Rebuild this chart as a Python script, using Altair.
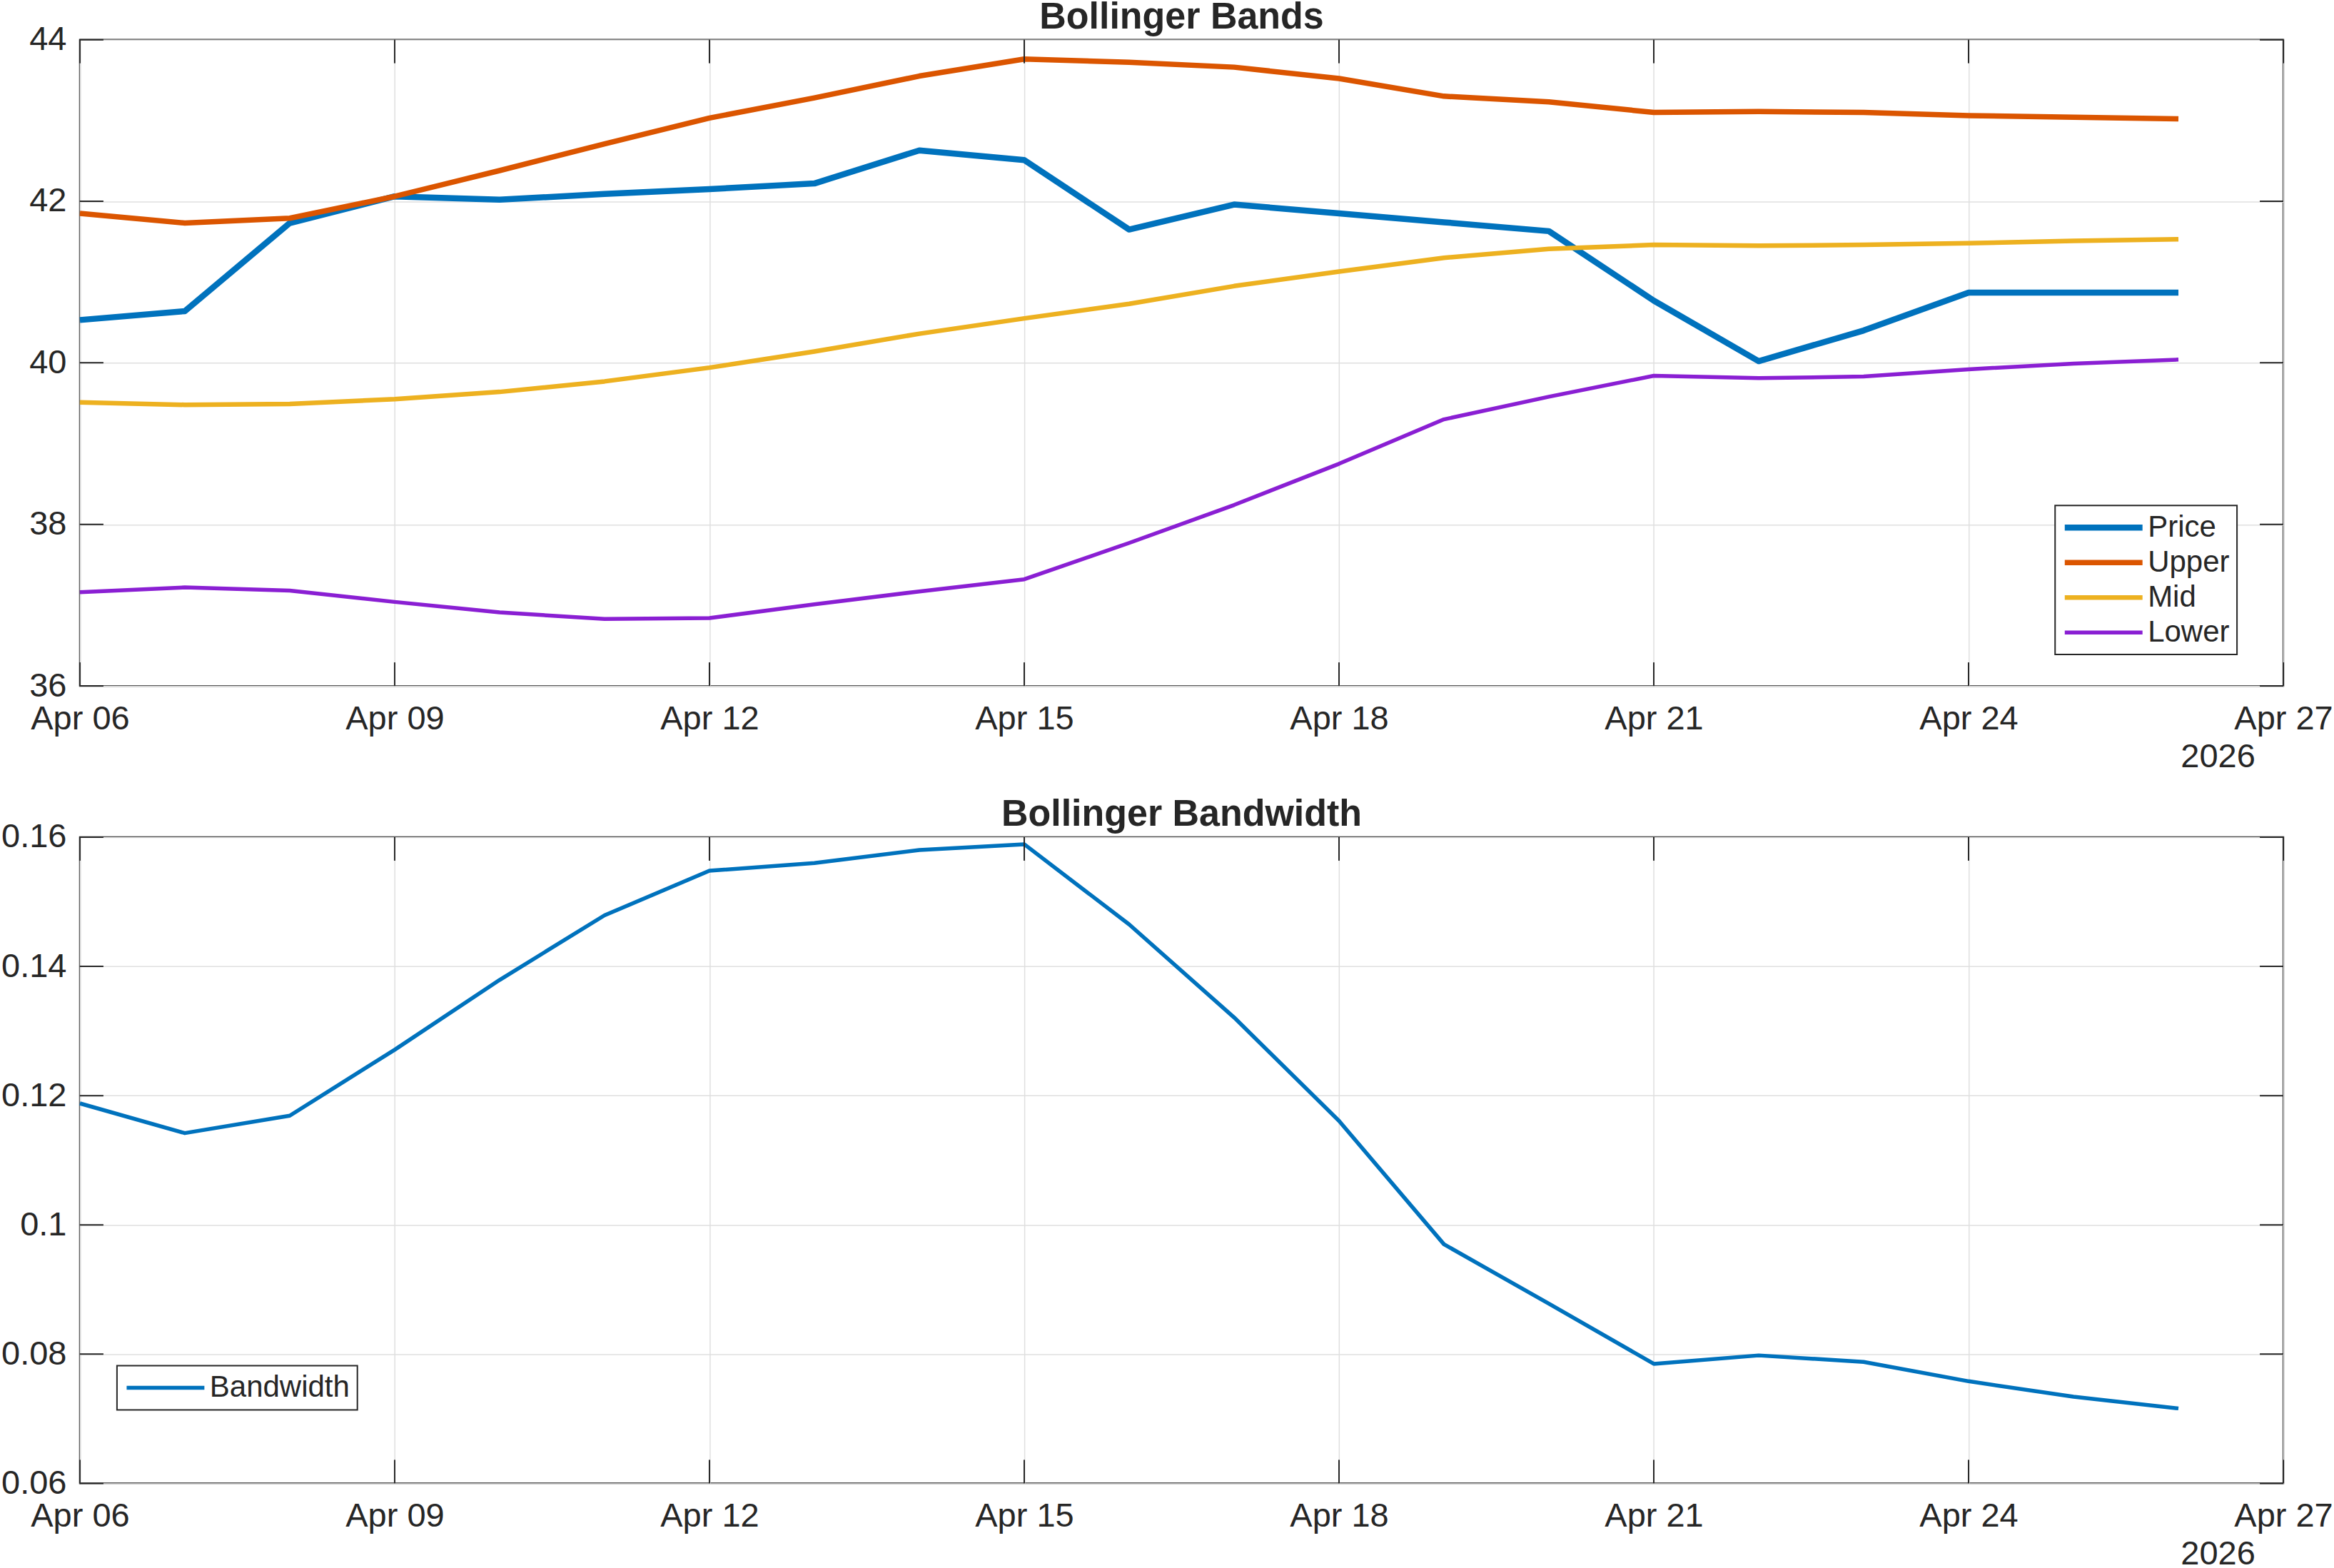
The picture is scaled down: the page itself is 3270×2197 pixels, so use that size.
import altair as alt
import pandas as pd

# ---------------- data ----------------
dates = ["2026-04-06", "2026-04-07", "2026-04-08", "2026-04-09", "2026-04-10",
         "2026-04-11", "2026-04-12", "2026-04-13", "2026-04-14", "2026-04-15",
         "2026-04-16", "2026-04-17", "2026-04-18", "2026-04-19", "2026-04-20",
         "2026-04-21", "2026-04-22", "2026-04-23", "2026-04-24", "2026-04-25",
         "2026-04-26"]
price = [40.53, 40.64, 41.73, 42.06, 42.02, 42.09, 42.15, 42.22, 42.63, 42.51,
         41.65, 41.96, 41.85, 41.74, 41.63, 40.77, 40.02, 40.40, 40.87, 40.87, 40.87]
upper = [41.85, 41.73, 41.79, 42.06, 42.38, 42.71, 43.03, 43.28, 43.55, 43.76,
         43.72, 43.66, 43.52, 43.30, 43.23, 43.10, 43.11, 43.10, 43.06, 43.04, 43.02]
mid = [39.51, 39.48, 39.49, 39.55, 39.64, 39.77, 39.94, 40.14, 40.36, 40.55,
       40.73, 40.95, 41.13, 41.30, 41.41, 41.46, 41.45, 41.46, 41.48, 41.51, 41.53]
lower = [37.16, 37.22, 37.18, 37.04, 36.91, 36.83, 36.84, 37.01, 37.17, 37.32,
         37.77, 38.24, 38.75, 39.30, 39.58, 39.84, 39.81, 39.83, 39.92, 39.99, 40.04]
bandwidth = [0.1188, 0.1142, 0.1169, 0.1271, 0.1379, 0.1479, 0.1548, 0.1560, 0.1580, 0.1589,
             0.1465, 0.1321, 0.1161, 0.0970, 0.0878, 0.0785, 0.0798, 0.0788, 0.0758, 0.0734, 0.0716]

series_names = ["Price", "Upper", "Mid", "Lower"]
series_colors = ["#0072BD", "#DB5500", "#EDB120", "#8A1FD3"]
series_widths = [8.5, 5.5, 5.5, 5.5]

x_tick_dates = ["2026-04-06", "2026-04-09", "2026-04-12", "2026-04-15",
                "2026-04-18", "2026-04-21", "2026-04-24", "2026-04-27"]
x_tick_days = [6, 9, 12, 15, 18, 21, 24, 27]
top_y_ticks = [36, 38, 40, 42, 44]
bot_y_ticks = [0.06, 0.08, 0.10, 0.12, 0.14, 0.16]

# ---------------- tables ----------------
bands = pd.DataFrame({
    "date": dates * 4,
    "value": price + upper + mid + lower,
    "series": sum([[s] * len(dates) for s in series_names], []),
})
bw = pd.DataFrame({"date": dates, "value": bandwidth, "series": ["Bandwidth"] * len(dates)})
xt = pd.DataFrame({"date": x_tick_dates})
yt_top = pd.DataFrame({"value": top_y_ticks})
yt_bot = pd.DataFrame({"value": bot_y_ticks})

# ---------------- style ----------------
FONT = "Liberation Sans"
INK = "#262626"
W, H = 3089, 906
TL = 33
LEG_PATH = "M-1.6,0H8.4"

xscale = alt.Scale(type="utc", domain=[alt.DateTime(year=2026, month=4, date=6, utc=True),
                                       alt.DateTime(year=2026, month=4, date=27, utc=True)])

X_AXIS = alt.Axis(
    values=[alt.DateTime(year=2026, month=4, date=d, utc=True) for d in x_tick_days],
    format="%b %d", labelFlush=False, labelOverlap=False,
    labelBaseline="alphabetic", labelAlign="center", labelPadding=60,
    title="2026", titleX=2997, titleY=113, titleAlign="center",
    titleBaseline="alphabetic", titleFontWeight="normal", titleFontSize=47,
    titleFont=FONT, titleColor=INK, grid=True,
)


def y_axis(vals, fmt):
    return alt.Axis(values=vals, format=fmt, labelPadding=19, labelBaseline="middle",
                    title=None, grid=True, labelFlush=False)


def tick_layers(ys, yax, yvals_df):
    left = alt.Chart(yvals_df).mark_rule(color=INK, strokeWidth=2).encode(
        y=alt.Y("value:Q", scale=ys, axis=yax), x=alt.value(0), x2=alt.value(TL))
    right = alt.Chart(yvals_df).mark_rule(color=INK, strokeWidth=2).encode(
        y=alt.Y("value:Q", scale=ys, axis=yax), x=alt.value(W - TL), x2=alt.value(W))
    bottom = alt.Chart(xt).mark_rule(color=INK, strokeWidth=2).encode(
        x=alt.X("date:T", scale=xscale, axis=X_AXIS), y=alt.value(H - TL), y2=alt.value(H))
    top = alt.Chart(xt).mark_rule(color=INK, strokeWidth=2).encode(
        x=alt.X("date:T", scale=xscale, axis=X_AXIS), y=alt.value(0), y2=alt.value(TL))
    return [left, right, bottom, top]


def legend(lx, ly, sw=None):
    kw = dict(title=None, orient="none", legendX=lx, legendY=ly, fillColor="white",
              strokeColor=INK, padding=10, labelFontSize=42, labelFont=FONT,
              labelColor=INK, symbolType=LEG_PATH, symbolSize=475, labelOffset=78,
              rowPadding=7, labelLimit=0, labelBaseline="middle")
    if sw is not None:
        kw["symbolStrokeWidth"] = sw
    return alt.Legend(**kw)


# ---------------- top panel ----------------
top_ys = alt.Scale(domain=[36, 44], nice=False, zero=False)
top_yax = y_axis(top_y_ticks, "d")
leg_top = legend(2769, 653)
top_lines = alt.Chart(bands).mark_line(strokeJoin="round").encode(
    x=alt.X("date:T", scale=xscale, axis=X_AXIS),
    y=alt.Y("value:Q", scale=top_ys, axis=top_yax),
    color=alt.Color("series:N", scale=alt.Scale(domain=series_names, range=series_colors),
                    legend=leg_top, sort=series_names),
    strokeWidth=alt.StrokeWidth("series:N", scale=alt.Scale(domain=series_names, range=series_widths),
                                legend=leg_top, sort=series_names),
    order=alt.Order("date:T"),
)
top = alt.layer(top_lines, *tick_layers(top_ys, top_yax, yt_top)).properties(
    width=W, height=H, title=alt.Title("Bollinger Bands"))

# ---------------- bottom panel ----------------
bot_ys = alt.Scale(domain=[0.06, 0.16], nice=False, zero=False)
bot_yax = y_axis(bot_y_ticks, "~g")
bot_line = alt.Chart(bw).mark_line(strokeWidth=5.5, strokeJoin="round").encode(
    x=alt.X("date:T", scale=xscale, axis=X_AXIS),
    y=alt.Y("value:Q", scale=bot_ys, axis=bot_yax),
    color=alt.Color("series:N", scale=alt.Scale(domain=["Bandwidth"], range=["#0072BD"]),
                    legend=legend(52, 741, sw=5.5)),
)
bottom = alt.layer(bot_line, *tick_layers(bot_ys, bot_yax, yt_bot)).properties(
    width=W, height=H, title=alt.Title("Bollinger Bandwidth"))

chart = alt.vconcat(top, bottom, spacing=212, bounds="flush").resolve_scale(
    color="independent", strokeWidth="independent", y="independent"
).resolve_legend(color="independent", strokeWidth="independent").properties(
    padding={"left": 0, "top": -4, "right": 0, "bottom": 0},
    background="white",
).configure_view(
    stroke=INK, strokeWidth=2.3
).configure_axis(
    labelFont=FONT, labelFontSize=47, labelColor=INK, domain=False, ticks=False,
    tickSize=0, gridColor="#dfdfdf", gridWidth=1.5,
).configure_title(
    font=FONT, fontSize=52, fontWeight="bold", color=INK, anchor="middle",
    frame="group", baseline="alphabetic", offset=-19.5,
).configure_legend(
    strokeWidth=2
)

chart.save("out.html", embed_options={"renderer": "svg", "actions": False})
